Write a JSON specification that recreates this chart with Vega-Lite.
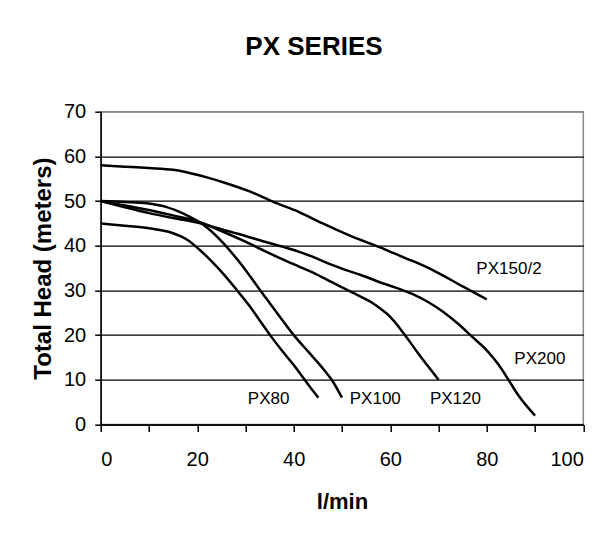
{
  "$schema": "https://vega.github.io/schema/vega-lite/v6.json",
  "width": 482.6,
  "height": 312.8,
  "autosize": {"type": "none"},
  "padding": {"left": 100.7, "top": 111.7, "right": 24.7, "bottom": 111.5},
  "background": "white",
  "title": {
    "text": "PX SERIES",
    "font": "Liberation Sans, Arial",
    "fontWeight": "bold",
    "fontSize": 26,
    "color": "black",
    "anchor": "middle",
    "dx": -28,
    "offset": 42
  },
  "config": {
    "view": {"stroke": "#8a8a8a", "strokeWidth": 1.5},
    "axis": {
      "labelFont": "Liberation Sans, Arial",
      "labelFontSize": 20,
      "labelColor": "black",
      "domainColor": "black",
      "domainWidth": 1.5,
      "tickColor": "black",
      "tickWidth": 1.5,
      "titleColor": "black",
      "titleFontWeight": "bold"
    }
  },
  "datasets": {
    "curves": [
      {"series": "PX150/2", "flow": 0, "head": 58},
      {"series": "PX150/2", "flow": 5, "head": 57.7},
      {"series": "PX150/2", "flow": 10, "head": 57.4},
      {"series": "PX150/2", "flow": 15, "head": 57.0},
      {"series": "PX150/2", "flow": 18, "head": 56.4},
      {"series": "PX150/2", "flow": 22, "head": 55.3},
      {"series": "PX150/2", "flow": 26, "head": 54},
      {"series": "PX150/2", "flow": 31, "head": 52.1},
      {"series": "PX150/2", "flow": 36, "head": 49.7},
      {"series": "PX150/2", "flow": 41, "head": 47.6},
      {"series": "PX150/2", "flow": 46, "head": 45},
      {"series": "PX150/2", "flow": 52, "head": 42.1},
      {"series": "PX150/2", "flow": 58, "head": 39.6},
      {"series": "PX150/2", "flow": 63, "head": 37.3},
      {"series": "PX150/2", "flow": 67, "head": 35.5},
      {"series": "PX150/2", "flow": 70, "head": 33.9},
      {"series": "PX150/2", "flow": 75, "head": 30.9},
      {"series": "PX150/2", "flow": 80, "head": 28},
      {"series": "PX200", "flow": 0, "head": 50},
      {"series": "PX200", "flow": 5, "head": 48.6},
      {"series": "PX200", "flow": 10, "head": 47.3},
      {"series": "PX200", "flow": 15, "head": 46.2},
      {"series": "PX200", "flow": 20, "head": 45.2},
      {"series": "PX200", "flow": 25, "head": 43.7},
      {"series": "PX200", "flow": 30, "head": 42.2},
      {"series": "PX200", "flow": 34, "head": 40.9},
      {"series": "PX200", "flow": 38, "head": 39.7},
      {"series": "PX200", "flow": 41, "head": 38.7},
      {"series": "PX200", "flow": 44, "head": 37.5},
      {"series": "PX200", "flow": 47.5, "head": 35.9},
      {"series": "PX200", "flow": 51, "head": 34.5},
      {"series": "PX200", "flow": 54, "head": 33.4},
      {"series": "PX200", "flow": 59, "head": 31.4},
      {"series": "PX200", "flow": 62, "head": 30.3},
      {"series": "PX200", "flow": 65, "head": 29},
      {"series": "PX200", "flow": 68, "head": 27.3},
      {"series": "PX200", "flow": 71, "head": 25.2},
      {"series": "PX200", "flow": 74, "head": 22.6},
      {"series": "PX200", "flow": 77, "head": 19.6},
      {"series": "PX200", "flow": 80, "head": 16.6},
      {"series": "PX200", "flow": 82.5, "head": 13.3},
      {"series": "PX200", "flow": 84.5, "head": 10},
      {"series": "PX200", "flow": 86.5, "head": 6.6},
      {"series": "PX200", "flow": 90, "head": 2},
      {"series": "PX120", "flow": 0, "head": 50},
      {"series": "PX120", "flow": 5, "head": 49},
      {"series": "PX120", "flow": 10, "head": 48},
      {"series": "PX120", "flow": 15, "head": 46.8},
      {"series": "PX120", "flow": 20, "head": 45.5},
      {"series": "PX120", "flow": 25, "head": 43.3},
      {"series": "PX120", "flow": 30, "head": 40.9},
      {"series": "PX120", "flow": 34, "head": 38.8},
      {"series": "PX120", "flow": 37, "head": 37.3},
      {"series": "PX120", "flow": 41, "head": 35.4},
      {"series": "PX120", "flow": 44, "head": 34.0},
      {"series": "PX120", "flow": 48, "head": 31.8},
      {"series": "PX120", "flow": 52, "head": 29.6},
      {"series": "PX120", "flow": 56, "head": 27.4},
      {"series": "PX120", "flow": 58, "head": 25.9},
      {"series": "PX120", "flow": 60, "head": 24.1},
      {"series": "PX120", "flow": 62, "head": 21.5},
      {"series": "PX120", "flow": 64, "head": 18.6},
      {"series": "PX120", "flow": 66, "head": 15.6},
      {"series": "PX120", "flow": 68, "head": 12.8},
      {"series": "PX120", "flow": 70, "head": 10},
      {"series": "PX100", "flow": 0, "head": 50},
      {"series": "PX100", "flow": 5, "head": 49.8},
      {"series": "PX100", "flow": 9.5, "head": 49.5},
      {"series": "PX100", "flow": 13.5, "head": 48.7},
      {"series": "PX100", "flow": 17.5, "head": 47},
      {"series": "PX100", "flow": 20, "head": 45.6},
      {"series": "PX100", "flow": 22, "head": 44.1},
      {"series": "PX100", "flow": 25.4, "head": 40.6},
      {"series": "PX100", "flow": 27.5, "head": 38},
      {"series": "PX100", "flow": 29.5, "head": 35.3},
      {"series": "PX100", "flow": 31, "head": 33.1},
      {"series": "PX100", "flow": 33, "head": 30.1},
      {"series": "PX100", "flow": 35, "head": 27.2},
      {"series": "PX100", "flow": 37, "head": 24.3},
      {"series": "PX100", "flow": 40, "head": 20},
      {"series": "PX100", "flow": 43, "head": 16.3},
      {"series": "PX100", "flow": 46, "head": 12.6},
      {"series": "PX100", "flow": 48, "head": 9.8},
      {"series": "PX100", "flow": 50, "head": 6},
      {"series": "PX80", "flow": 0, "head": 45},
      {"series": "PX80", "flow": 5, "head": 44.5},
      {"series": "PX80", "flow": 10, "head": 43.9},
      {"series": "PX80", "flow": 15, "head": 42.8},
      {"series": "PX80", "flow": 18, "head": 41.3},
      {"series": "PX80", "flow": 20.6, "head": 39},
      {"series": "PX80", "flow": 23, "head": 36.5},
      {"series": "PX80", "flow": 25.5, "head": 33.6},
      {"series": "PX80", "flow": 28.2, "head": 30.1},
      {"series": "PX80", "flow": 31, "head": 26.3},
      {"series": "PX80", "flow": 33, "head": 23.2},
      {"series": "PX80", "flow": 35.1, "head": 20},
      {"series": "PX80", "flow": 37.5, "head": 16.6},
      {"series": "PX80", "flow": 40, "head": 13.3},
      {"series": "PX80", "flow": 42, "head": 10.4},
      {"series": "PX80", "flow": 43.5, "head": 8.2},
      {"series": "PX80", "flow": 45.1, "head": 6}
    ],
    "labels": [
      {"label": "PX80", "flow": 34.8, "head": 5.7},
      {"label": "PX100", "flow": 56.9, "head": 5.7},
      {"label": "PX120", "flow": 73.5, "head": 5.7},
      {"label": "PX150/2", "flow": 84.6, "head": 34.9},
      {"label": "PX200", "flow": 91, "head": 14.6}
    ]
  },
  "layer": [
    {
      "data": {"name": "curves"},
      "mark": {"type": "line", "color": "black", "strokeWidth": 2.5, "interpolate": "monotone"},
      "encoding": {
        "x": {
          "field": "flow",
          "type": "quantitative",
          "scale": {"domain": [0, 100], "nice": false},
          "axis": {
            "values": [0, 10, 20, 30, 40, 50, 60, 70, 80, 90, 100],
            "labelExpr": "datum.value % 20 === 0 ? datum.label : ''",
            "grid": false,
            "tickSize": 7,
            "labelPadding": 18,
            "title": "l/min",
            "titleFont": "Liberation Sans, Arial",
            "titleFontSize": 22,
            "titlePadding": 22
          }
        },
        "y": {
          "field": "head",
          "type": "quantitative",
          "scale": {"domain": [0, 70], "nice": false},
          "axis": {
            "values": [0, 10, 20, 30, 40, 50, 60, 70],
            "grid": true,
            "gridColor": {"condition": {"test": "datum.value === 70", "value": "#8a8a8a"}, "value": "black"},
            "gridWidth": 1.2,
            "gridOpacity": 1,
            "tickSize": 6,
            "labelPadding": 9,
            "title": "Total Head (meters)",
            "titleFont": "Liberation Sans, Arial",
            "titleFontSize": 24,
            "titlePadding": 8
          }
        },
        "detail": {"field": "series"}
      }
    },
    {
      "data": {"name": "labels"},
      "mark": {
        "type": "text",
        "font": "Liberation Sans, Arial",
        "fontSize": 17,
        "color": "black",
        "align": "center",
        "baseline": "middle"
      },
      "encoding": {
        "x": {"field": "flow", "type": "quantitative"},
        "y": {"field": "head", "type": "quantitative"},
        "text": {"field": "label"}
      }
    }
  ]
}
